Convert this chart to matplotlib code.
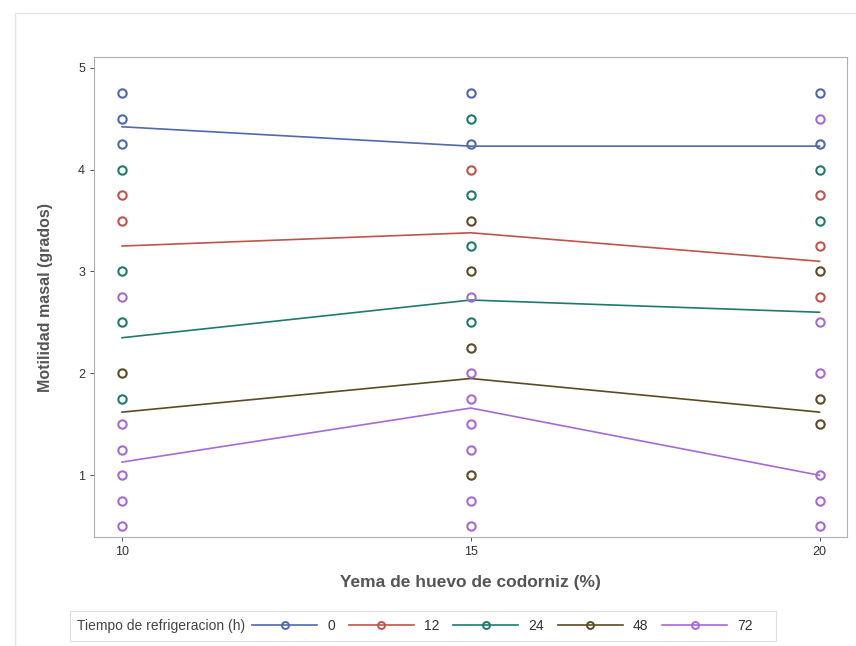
import matplotlib.pyplot as plt
from matplotlib.lines import Line2D
from matplotlib.patches import Rectangle

# refrigeration time groups (h)
groups = ['0', '12', '24', '48', '72']
colors = ['#4f68b0', '#c0544a', '#1f7a6e', '#5e4a22', '#a56ad8']

# yolk percentage levels
yolk = [10, 15, 20]

# group means (fitted lines)
mean_0 = [4.42, 4.23, 4.23]
mean_12 = [3.25, 3.38, 3.10]
mean_24 = [2.35, 2.72, 2.60]
mean_48 = [1.62, 1.95, 1.62]
mean_72 = [1.13, 1.66, 1.00]
means = [mean_0, mean_12, mean_24, mean_48, mean_72]

# individual observations, (yolk %, motility) per group
obs_0 = [(10, 4.75), (10, 4.5), (10, 4.25),
         (15, 4.75), (15, 4.25),
         (20, 4.75), (20, 4.25)]
obs_12 = [(10, 3.75), (10, 3.5),
          (15, 4.0),
          (20, 3.75), (20, 3.25), (20, 2.75)]
obs_24 = [(10, 4.0), (10, 3.0), (10, 2.5), (10, 1.75),
          (15, 4.5), (15, 3.75), (15, 3.25), (15, 2.5),
          (20, 4.0), (20, 3.5)]
obs_48 = [(10, 2.0),
          (15, 3.5), (15, 3.0), (15, 2.25), (15, 1.0),
          (20, 3.0), (20, 1.75), (20, 1.5)]
obs_72 = [(10, 2.75), (10, 1.5), (10, 1.25), (10, 1.0), (10, 0.75), (10, 0.5),
          (15, 2.75), (15, 2.0), (15, 1.75), (15, 1.5), (15, 1.25), (15, 0.75), (15, 0.5),
          (20, 4.5), (20, 2.5), (20, 2.0), (20, 1.0), (20, 0.75), (20, 0.5)]
observations = [obs_0, obs_12, obs_24, obs_48, obs_72]

plt.rcParams['font.family'] = ['Liberation Sans', 'DejaVu Sans']

fig = plt.figure(figsize=(8.56, 6.46), dpi=100)
ax = fig.add_axes([0.110, 0.168, 0.880, 0.743])

for name, col, m, obs in zip(groups, colors, means, observations):
    ax.plot(yolk, m, color=col, lw=1.2, zorder=2)
    xs = [o[0] for o in obs]
    ys = [o[1] for o in obs]
    ax.plot(xs, ys, linestyle='none', marker='o', ms=6, mfc='none',
            mec=col, mew=1.5, zorder=3)

ax.set_xlim(9.6, 20.4)
ax.set_ylim(0.39, 5.1)
ax.set_xticks(yolk)
ax.set_yticks([1, 2, 3, 4, 5])
ax.tick_params(labelsize=9, colors='#333333', length=3, width=0.6)
for s in ax.spines.values():
    s.set_color('#b0b0b0')
    s.set_linewidth(0.8)

ax.set_xlabel('Yema de huevo de codorniz (%)', fontsize=12.5, fontweight='bold',
              color='#555555', labelpad=12)
ax.set_ylabel('Motilidad masal (grados)', fontsize=11.5, fontweight='bold',
              color='#555555', labelpad=18)

# legend along the bottom, title to the left
handles = [Line2D([], [], color=c, lw=1.2, marker='o', ms=5, mfc='none', mew=1.4)
           for c in colors]
fig.text(0.090, 0.031, 'Tiempo de refrigeracion (h)', fontsize=10,
         color='#444444', va='center')
leg = fig.legend(handles, groups, loc='center left', bbox_to_anchor=(0.280, 0.031),
                 ncol=5, frameon=False, fontsize=10, handlelength=4.7,
                 columnspacing=1.0, handletextpad=0.7, labelcolor='#333333')

fig.patches.append(Rectangle((0.082, 0.008), 0.825, 0.046, transform=fig.transFigure,
                             fill=False, edgecolor='#dddddd', lw=0.8))
fig.patches.append(Rectangle((0.018, -0.01), 0.99, 0.99, transform=fig.transFigure,
                             fill=False, edgecolor='#e4e4e4', lw=1.0))

fig.savefig('out.png', dpi=100)
